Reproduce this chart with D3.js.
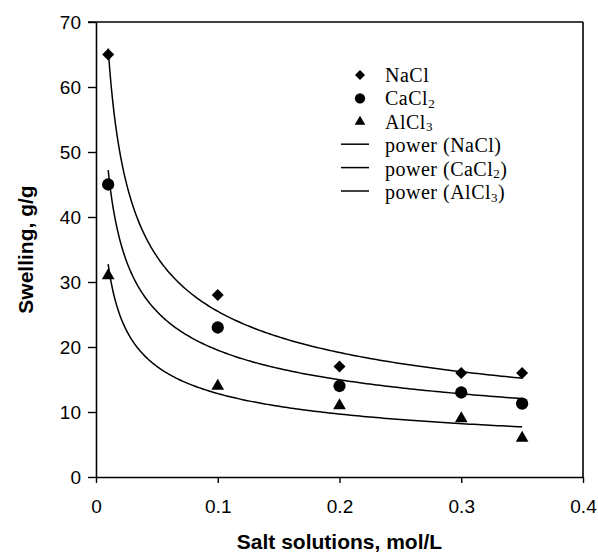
<!DOCTYPE html>
<html>
<head>
<meta charset="utf-8">
<script src="https://cdn.jsdelivr.net/npm/d3@7"></script>
<style>
  html, body { margin: 0; padding: 0; background: #fff; }
  svg { display: block; }
</style>
</head>
<body>
<svg id="chart" width="598" height="553"></svg>
<script>
// Salt concentrations (mol/L) at which swelling was measured
const concentrations = [0.01, 0.1, 0.2, 0.3, 0.35];
// Swelling (g/g) for each salt
const naclValues  = [65, 28, 17, 16, 16];
const cacl2Values = [45, 23, 14, 13, 11.3];
const alcl3Values = [31, 14, 11, 9, 6];
// Axis ticks
const xTicks = [0, 0.1, 0.2, 0.3, 0.4];
const yTicks = [0, 10, 20, 30, 40, 50, 60, 70];

const series = [
  { name: "NaCl",  sub: "",  values: naclValues,  symbol: "diamond" },
  { name: "CaCl",  sub: "2", values: cacl2Values, symbol: "circle" },
  { name: "AlCl",  sub: "3", values: alcl3Values, symbol: "triangle" }
];

const margin = { left: 96, right: 15, top: 22, bottom: 76 };
const W = 598, H = 553;
const svg = d3.select("#chart");

const x = d3.scaleLinear().domain([0, 0.4]).range([margin.left, W - margin.right]);
const y = d3.scaleLinear().domain([0, 70]).range([H - margin.bottom, margin.top]);

const sansFont = "'Liberation Sans', Arial, Helvetica, sans-serif";
const serifFont = "'Liberation Serif', 'Times New Roman', serif";

// Least-squares power fit y = a * x^b in log–log space
function powerFit(xs, ys) {
  const lx = xs.map(Math.log), ly = ys.map(Math.log);
  const mx = d3.mean(lx), my = d3.mean(ly);
  const sxy = d3.sum(lx, (v, i) => (v - mx) * (ly[i] - my));
  const sxx = d3.sum(lx, v => (v - mx) * (v - mx));
  const b = sxy / sxx;
  const a = Math.exp(my - b * mx);
  return t => a * Math.pow(t, b);
}

// Frame: top and right edges
svg.append("line")
  .attr("x1", x(0) - 8).attr("x2", x(0.4))
  .attr("y1", y(70)).attr("y2", y(70))
  .attr("stroke", "#000").attr("stroke-width", 1.6);
svg.append("line")
  .attr("x1", x(0.4)).attr("x2", x(0.4))
  .attr("y1", y(70)).attr("y2", y(0))
  .attr("stroke", "#000").attr("stroke-width", 1.6);

// Axes
const xAxis = svg.append("g")
  .attr("transform", `translate(0,${y(0)})`)
  .call(d3.axisBottom(x).tickValues(xTicks).tickSize(6).tickSizeOuter(0)
    .tickFormat(d => d === 0 ? "0" : d3.format(".1f")(d)));
const yAxis = svg.append("g")
  .attr("transform", `translate(${x(0)},0)`)
  .call(d3.axisLeft(y).tickValues(yTicks).tickSize(8).tickSizeOuter(0));

[xAxis, yAxis].forEach(g => {
  g.select(".domain").attr("stroke-width", 1.6);
  g.selectAll(".tick line").attr("stroke-width", 1.4);
  g.selectAll(".tick text")
    .attr("font-family", sansFont).attr("font-size", 19).attr("fill", "#000");
});
xAxis.selectAll(".tick text").attr("dy", null).attr("y", 36);
yAxis.selectAll(".tick text").attr("x", -15).attr("dy", "0.35em");

// Axis titles
svg.append("text")
  .attr("x", (x(0) + x(0.4)) / 2).attr("y", 549)
  .attr("text-anchor", "middle")
  .attr("font-family", sansFont).attr("font-weight", "bold").attr("font-size", 21)
  .text("Salt solutions, mol/L");
svg.append("text")
  .attr("transform", `translate(33,${(y(0) + y(70)) / 2}) rotate(-90)`)
  .attr("text-anchor", "middle")
  .attr("font-family", sansFont).attr("font-weight", "bold").attr("font-size", 21)
  .text("Swelling, g/g");

// Fitted power curves
const line = d3.line().x(d => x(d[0])).y(d => y(d[1]));
const xMin = d3.min(concentrations), xMax = d3.max(concentrations);
const samples = d3.range(0, 201).map(i => xMin + (xMax - xMin) * Math.pow(i / 200, 2));
series.forEach(s => {
  const f = powerFit(concentrations, s.values);
  svg.append("path")
    .datum(samples.map(t => [t, f(t)]))
    .attr("d", line)
    .attr("fill", "none").attr("stroke", "#000").attr("stroke-width", 1.5);
});

// Marker shapes
function markerPath(kind, scale) {
  if (kind === "diamond") return d3.symbol(d3.symbolSquare, 72 * scale)();
  if (kind === "circle") return d3.symbol(d3.symbolCircle, 118 * scale)();
  return d3.symbol(d3.symbolTriangle, 70 * scale)();
}

series.forEach(s => {
  svg.append("g").selectAll("path")
    .data(s.values.map((v, i) => [concentrations[i], v]))
    .join("path")
    .attr("d", markerPath(s.symbol, 1))
    .attr("transform", d => `translate(${x(d[0])},${y(d[1])})` + (s.symbol === "diamond" ? " rotate(45)" : ""))
    .attr("fill", "#000");
});

// Legend
const legend = svg.append("g")
  .attr("font-family", serifFont).attr("font-size", 20).attr("letter-spacing", 0.5);
const rowBase = 82, rowStep = 23.4, textX = 385;
function addLabel(row, prefix, name, sub, suffix) {
  const t = legend.append("text").attr("x", textX).attr("y", rowBase + row * rowStep);
  t.append("tspan").text(prefix + name);
  if (sub) {
    t.append("tspan").attr("font-size", 13).attr("dy", 2.5).text(sub);
    t.append("tspan").attr("dy", -2.5).text(suffix);
  } else {
    t.append("tspan").text(suffix);
  }
}
series.forEach((s, i) => {
  legend.append("path")
    .attr("d", markerPath(s.symbol, 0.7))
    .attr("transform", `translate(360,${rowBase + i * rowStep - 7})` + (s.symbol === "diamond" ? " rotate(45)" : ""))
    .attr("fill", "#000");
  addLabel(i, "", s.name, s.sub, "");
});
series.forEach((s, i) => {
  const row = i + 3;
  legend.append("line")
    .attr("x1", 341).attr("x2", 369)
    .attr("y1", rowBase + row * rowStep - 8).attr("y2", rowBase + row * rowStep - 8)
    .attr("stroke", "#000").attr("stroke-width", 1.5);
  addLabel(row, "power (", s.name, s.sub, ")");
});
</script>
</body>
</html>
